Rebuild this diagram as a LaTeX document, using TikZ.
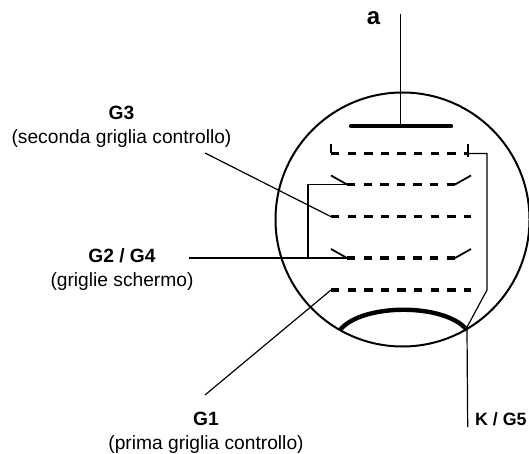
\documentclass[tikz,border=0pt]{standalone}
\usepackage{fontspec}
\setmainfont{Liberation Sans}
\tikzset{
  lead/.style={draw=black,line width=1.2pt},
  bulb/.style={draw=black,line width=2pt},
  heavy/.style={draw=black,line width=4.4pt,line cap=round},
  grid/.style={draw=black,line width=3.4pt,dash pattern=on 8.3pt off 8.3pt},
  wing/.style={draw=black,line width=1.8pt},
  lab/.style={font=\fontsize{19.2}{24}\selectfont,align=center,inner sep=0pt},
  big/.style={font=\fontsize{24}{26}\selectfont\bfseries,inner sep=0pt}
}
\begin{document}
\begin{tikzpicture}[x=1pt,y=-1pt]
\useasboundingbox (0,0) rectangle (529,454);
% bulb
\coordinate (ctr) at (402.5,219.5);
\draw[bulb] (ctr) circle (127);
% anode
\coordinate (atop) at (400.7,14);
\coordinate (amid) at (400.7,126);
\coordinate (pl) at (351,126);
\coordinate (pr) at (451,126);
\draw[lead] (atop) -- (amid);
\draw[heavy] (pl) -- (pr);
\node[big] (a) at (373.5,18.5) {a};
% G5 top grid
\coordinate (g5a) at (331,144);
\coordinate (g5b) at (331,153.5);
\coordinate (g5c) at (468,153.5);
\coordinate (g5d) at (468,144);
\coordinate (g5e) at (468,157);
\coordinate (g5f) at (487,153.5);
\coordinate (g5g) at (487,290);
\coordinate (kj) at (466,329);
\coordinate (kbot) at (467.7,427);
\draw[line width=2.2pt] (g5a) -- (g5b);
\draw[grid] (g5b) -- (g5c);
\draw[line width=1.4pt] (g5d) -- (g5e);
\draw[lead] (g5c) -- (g5f) -- (g5g) -- (kj);
% G4 upper screen
\coordinate (s1a) at (331,175.5);
\coordinate (s1b) at (347,184.5);
\coordinate (s1c) at (455,184.5);
\coordinate (s1d) at (471,175.5);
\coordinate (s1e) at (308,184.5);
\draw[wing] (s1a) -- (s1b);
\draw[grid] (s1b) -- (s1c);
\draw[wing] (s1c) -- (s1d);
% G3 grid
\coordinate (g3a) at (331,216.7);
\coordinate (g3b) at (471,216.7);
\coordinate (g3l) at (205,153);
\draw[grid] (g3a) -- (g3b);
\draw[lead] (g3l) -- (g3a);
% G2 lower screen
\coordinate (s2a) at (331,249);
\coordinate (s2b) at (347,258);
\coordinate (s2c) at (455,258);
\coordinate (s2d) at (471,249);
\coordinate (s2e) at (308,258);
\coordinate (s2l) at (189,258);
\draw[wing] (s2a) -- (s2b);
\draw[grid] (s2b) -- (s2c);
\draw[wing] (s2c) -- (s2d);
\draw[lead] (s2l) -- (s2b);
\draw[lead] (s1b) -- (s1e) -- (s2e);
% G1
\coordinate (g1a) at (331,290);
\coordinate (g1b) at (471,290);
\coordinate (g1l) at (205,395);
\draw[grid] (g1a) -- (g1b);
\draw[lead] (g1l) -- (g1a);
% cathode
\coordinate (ca) at (340,330);
\coordinate (cb) at (467,330);
\draw[draw=black,line width=4.4pt] (ca) .. controls (362,303) and (445,303) .. (cb);
\draw[lead] (cb) -- (kbot);
% labels
\node[lab] (t3) at (121.5,127) {\textbf{G3}\\(seconda griglia controllo)};
\node[lab] (t2) at (122,270) {\textbf{G2 / G4}\\(griglie schermo)};
\node[lab] (t1) at (206,433) {\textbf{G1}\\(prima griglia controllo)};
\node[lab,anchor=west,font=\fontsize{17.8}{24}\selectfont] (tk) at (475,419.5) {\textbf{K / G5}};
\end{tikzpicture}
\end{document}
